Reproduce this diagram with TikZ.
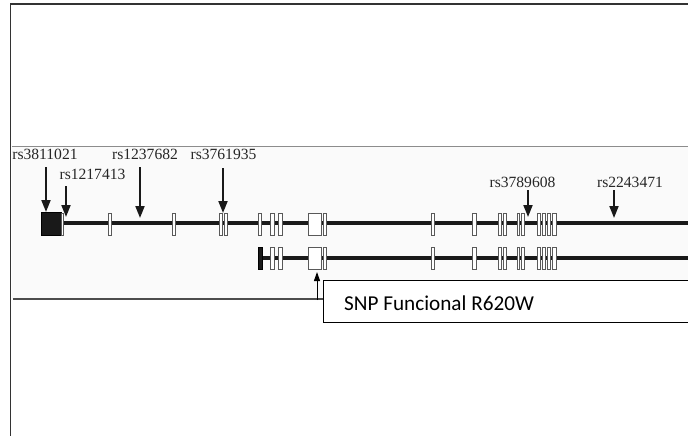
\documentclass[tikz,border=0pt]{standalone}
\usepackage{fontspec}
\setmainfont{Liberation Serif}
\newfontfamily\calib{Carlito}
\usetikzlibrary{arrows.meta}
\tikzset{
  frameline/.style={draw=black!80, line width=1.5pt},
  geneline/.style={draw=black!90, line width=4pt},
  exonbox/.style={draw=black!65, fill=white, line width=0.9pt},
  snparrow/.style={draw=black!90, line width=1.8pt, -{Triangle[width=9pt,length=12pt]}},
  snplabel/.style={font=\fontsize{15.6}{18}\selectfont, anchor=base, inner sep=0pt, text=black!85},
  callout/.style={draw=black, line width=1pt, fill=white},
}
\begin{document}
\begin{tikzpicture}[x=1pt,y=-1pt]
\useasboundingbox (0,0) rectangle (688,436);
\fill[white] (0,0) rectangle (688,436);
% outer frame
\draw[frameline] (10.5,437) -- (10.5,4) -- (690,4);
% inner figure panel
\fill[black!2] (11.5,146) rectangle (688,299);
\draw[draw=black!45, line width=1.5pt] (11.5,146.5) -- (690,146.5);
\draw[draw=black!70, line width=1.2pt] (13,299) -- (323,299);
% gene lines
\draw[geneline] (60,223) -- (690,223);
\draw[geneline] (259,258) -- (690,258);
% first exon (black)
\draw[fill=black!90, draw=black] (41,212) rectangle (61,235);
\foreach \a/\b in {61/63.5,108.5/111.5,172/175,219/222,224.5/227.5,258.5/261.5,270.5/274.5,278.5/282.5,308/321,323.5/326.5,431.5/434.5,472/476,498.5/501.5,503.5/506.5,517/519.8,521.7/524.5,537/540,542/545,547/550,552/556}
  \draw[exonbox] (\a,213) rectangle (\b,235);
\draw[fill=black!90, draw=black] (258,247) rectangle (262,269.5);
\foreach \a/\b in {270.5/274.5,278.5/282.5,308/321,323.5/326.5,431.5/434.5,472/476,498.5/501.5,503.5/506.5,517/519.8,521.7/524.5,537/540,542/545,547/550,552/556}
  \draw[exonbox] (\a,247) rectangle (\b,269);
% SNP labels
\node[snplabel] (s1) at (45,159) {rs3811021};
\node[snplabel] (s2) at (92.5,179) {rs1217413};
\node[snplabel] (s3) at (145,159) {rs1237682};
\node[snplabel] (s4) at (223.5,159) {rs3761935};
\node[snplabel] (s5) at (522.5,187) {rs3789608};
\node[snplabel] (s6) at (630,187) {rs2243471};
% arrow targets
\coordinate (t1) at (46,212);
\coordinate (t2) at (66,217);
\coordinate (t3) at (140,218);
\coordinate (t4) at (223,213);
\coordinate (t5) at (528,217);
\coordinate (t6) at (614,218);
\draw[snparrow] (46,167) -- (t1);
\draw[snparrow] (66,186) -- (t2);
\draw[snparrow] (140,167) -- (t3);
\draw[snparrow] (223,168) -- (t4);
\draw[snparrow] (528,190) -- (t5);
\draw[snparrow] (614,190) -- (t6);
% functional SNP callout
\node[callout, minimum height=42pt, anchor=north west, minimum width=370pt, inner sep=0pt] (box) at (323,280) {};
\node[font=\calib\fontsize{21.2}{24}\selectfont, anchor=base west, inner sep=0pt] (snp) at (344,310) {SNP Funcional R620W};
\coordinate (fa) at (317,300);
\coordinate (fb) at (317,272);
\draw[draw=black, line width=1pt, -{Triangle[width=6pt,length=9pt]}] (fa) -- (fb);
\end{tikzpicture}
\end{document}
